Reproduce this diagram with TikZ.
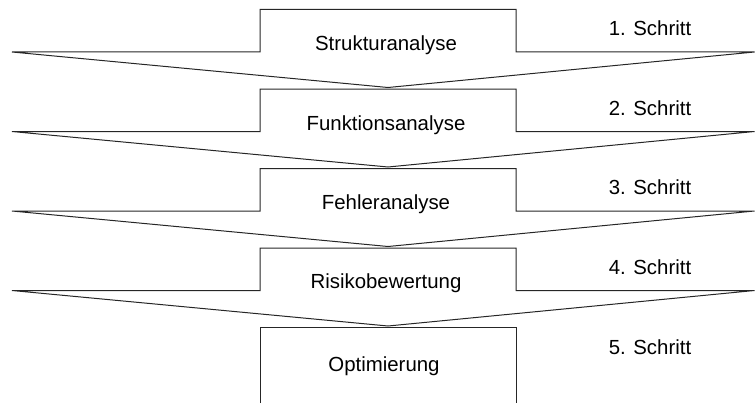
\documentclass[tikz,border=0pt]{standalone}
\usepackage{fontspec}
\setmainfont{Liberation Sans}
\usepackage{tikz}

\begin{document}
\begin{tikzpicture}[
    x=0.75pt, y=-0.75pt,
    stage/.style={draw=black!85, line width=0.75pt, line join=miter},
    phasetext/.style={font=\fontsize{15.3}{18}\selectfont, anchor=base, inner sep=0pt},
    steptext/.style={font=\fontsize{15.3}{18}\selectfont, anchor=base, inner sep=0pt}
]
    \useasboundingbox (0,0) rectangle (755,403);

    % Stage 1
    \draw[stage] (12,52) -- (260,52) -- (260,9.5) -- (516,9.5) -- (516,52) -- (754.5,52) -- (388,87.5) -- cycle;
    \node[phasetext] (struktur) at (386,50.5) {Strukturanalyse};
    \node[steptext] (schritt1) at (650,35.5) {1. Schritt};

    % Stage 2
    \draw[stage] (12,131.5) -- (260,131.5) -- (260,89) -- (516,89) -- (516,131.5) -- (754.5,131.5) -- (388,167) -- cycle;
    \node[phasetext] (funktion) at (386,130) {Funktionsanalyse};
    \node[steptext] (schritt2) at (650,115) {2. Schritt};

    % Stage 3
    \draw[stage] (12,211) -- (260,211) -- (260,168.5) -- (516,168.5) -- (516,211) -- (754.5,211) -- (388,246.5) -- cycle;
    \node[phasetext] (fehler) at (386,209.5) {Fehleranalyse};
    \node[steptext] (schritt3) at (650,194.5) {3. Schritt};

    % Stage 4
    \draw[stage] (12,290.5) -- (260,290.5) -- (260,248) -- (516,248) -- (516,290.5) -- (754.5,290.5) -- (388,326) -- cycle;
    \node[phasetext] (risiko) at (386,288.5) {Risikobewertung};
    \node[steptext] (schritt4) at (650,274) {4. Schritt};

    % Stage 5 (open at the bottom)
    \draw[stage] (260,403) -- (260,327.5) -- (516,327.5) -- (516,403);
    \node[phasetext] (optimierung) at (384,371.5) {Optimierung};
    \node[steptext] (schritt5) at (650,354) {5. Schritt};
\end{tikzpicture}
\end{document}
